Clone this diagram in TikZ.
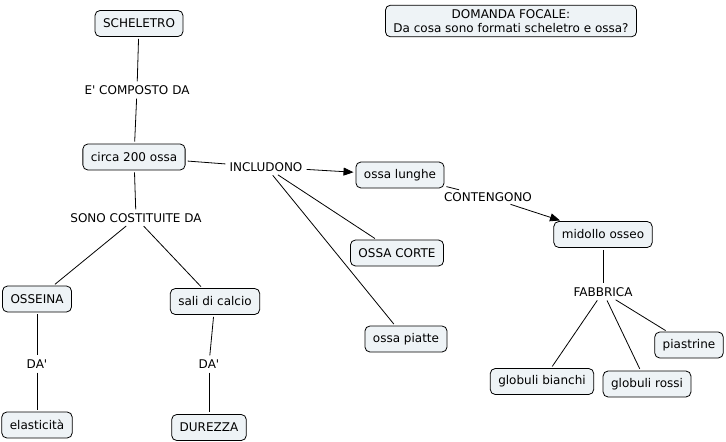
\documentclass[tikz,border=0pt]{standalone}
\usepackage{fontspec}
\setmainfont{DejaVu Sans}
\usetikzlibrary{arrows.meta}

\definecolor{boxfill}{RGB}{238,243,246}

\tikzset{
  concept/.style={draw, fill=boxfill, rounded corners=5pt, line width=0.8pt, inner xsep=8pt, minimum height=26pt, font=\fontsize{12}{14.5}\selectfont},
  link/.style={inner sep=2pt, font=\fontsize{12}{14.5}\selectfont},
  conn/.style={line width=0.8pt, shorten <=2pt, shorten >=2pt},
  arr/.style={conn, -{Triangle[length=10pt,width=8pt]}}
}

\begin{document}
\begin{tikzpicture}[x=1pt,y=-1pt]
\useasboundingbox (0,0) rectangle (726,442);
% concepts
\node[concept] (skel) at (139,23.5) {SCHELETRO};
\node[concept, align=center, inner ysep=4pt] (focus) at (511,21) {DOMANDA FOCALE:\\Da cosa sono formati scheletro e ossa?};
\node[concept] (bones) at (134,157) {circa 200 ossa};
\node[concept] (long) at (400,175) {ossa lunghe};
\node[concept] (short) at (397,253) {OSSA CORTE};
\node[concept] (flat) at (406,339) {ossa piatte};
\node[concept] (marrow) at (603,234.5) {midollo osseo};
\node[concept] (ossein) at (37,299) {OSSEINA};
\node[concept] (salts) at (215,301.5) {sali di calcio};
\node[concept] (elast) at (37,425) {elasticità};
\node[concept] (hard) at (209,427.5) {DUREZZA};
\node[concept] (white) at (542,381.5) {globuli bianchi};
\node[concept] (red) at (647,384) {globuli rossi};
\node[concept] (plat) at (689,345) {piastrine};
% linking phrases
\node[link] (composed) at (137,90) {E\textquotesingle{} COMPOSTO DA};
\node[link] (include) at (266,167) {INCLUDONO};
\node[link] (contain) at (488,197) {CONTENGONO};
\node[link] (made) at (136,218) {SONO COSTITUITE DA};
\node[link] (give1) at (37,364) {DA\textquotesingle};
\node[link] (give2) at (209,364) {DA\textquotesingle};
\node[link] (makes) at (603,292) {FABBRICA};
% connectors
\foreach \a/\b in {skel/composed, composed/bones, bones/include, include/short, include/flat,
  long/contain, bones/made, made/ossein, made/salts, ossein/give1, give1/elast,
  salts/give2, give2/hard, marrow/makes, makes/white, makes/red, makes/plat}
  \draw[conn] (\a) -- (\b);
\draw[arr] (include) -- (long);
\draw[arr] (contain) -- (marrow);
\end{tikzpicture}
\end{document}
